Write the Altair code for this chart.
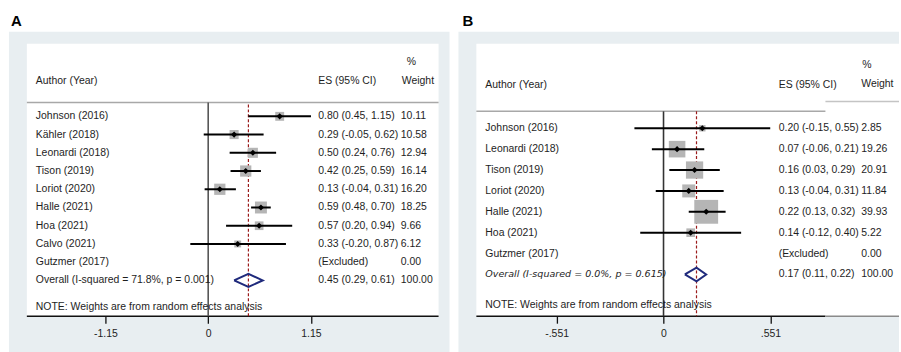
import altair as alt
import pandas as pd

FONT = "Liberation Sans"
TXT = "#1e1e1e"
PANEL_BG = "#e8eef1"
SQUARE_GREY = "#b5b5b5"
DIAMOND_BLUE = "#1f2a7c"
REF_RED = "#9b1b1b"

# ---------------- Panel A ----------------
a_study = ["Johnson (2016)", "Kähler (2018)", "Leonardi (2018)", "Tison (2019)",
           "Loriot (2020)", "Halle (2021)", "Hoa (2021)", "Calvo (2021)", "Gutzmer (2017)"]
a_es = [0.80, 0.29, 0.50, 0.42, 0.13, 0.59, 0.57, 0.33, None]
a_lo = [0.45, -0.05, 0.24, 0.25, -0.04, 0.48, 0.20, -0.20, None]
a_hi = [1.15, 0.62, 0.76, 0.59, 0.31, 0.70, 0.94, 0.87, None]
a_wt = [10.11, 10.58, 12.94, 16.14, 16.20, 18.25, 9.66, 6.12, 0.00]
a_pooled = [0.45, 0.29, 0.61]
a_het = "Overall  (I-squared = 71.8%, p = 0.001)"
a_ticks = [-1.15, 0, 1.15]

# ---------------- Panel B ----------------
b_study = ["Johnson (2016)", "Leonardi (2018)", "Tison (2019)", "Loriot (2020)",
           "Halle (2021)", "Hoa (2021)", "Gutzmer (2017)"]
b_es = [0.20, 0.07, 0.16, 0.13, 0.22, 0.14, None]
b_lo = [-0.15, -0.06, 0.03, -0.04, 0.13, -0.12, None]
b_hi = [0.55, 0.21, 0.29, 0.31, 0.32, 0.40, None]
b_wt = [2.85, 19.26, 20.91, 11.84, 39.93, 5.22, 0.00]
b_pooled = [0.17, 0.11, 0.22]
b_het = "Overall  (I-squared = 0.0%, p = 0.615)"
b_ticks = [-0.551, 0, 0.551]

NOTE = "NOTE: Weights are from random effects analysis"
CANVAS_H = 352


def one():
    return pd.DataFrame({"k": [0]})


def txt(df, x, y, text, **kw):
    style = dict(font=FONT, fontSize=10.5, color=TXT, align="left", baseline="middle")
    style.update(kw)
    return alt.Chart(df).mark_text(**style).encode(x=x, y=y, text=text)


def panel(letter, study, es, lo, hi, wt, pooled, het, ticks, label_expr,
          size_dom, size_rng, g):
    ox = g["origin"]          # left edge of this panel on the page

    def px(v):
        return v - ox

    n = len(study)
    df = pd.DataFrame({"study": study, "row": list(range(n)),
                       "es": es, "lo": lo, "hi": hi, "w": wt})
    df["es_txt"] = [("(Excluded)" if e is None else f"{e:.2f} ({l:.2f}, {h:.2f})")
                    for e, l, h in zip(es, lo, hi)]
    df["w_txt"] = [f"{w:.2f}" for w in wt]
    est = df.dropna(subset=["es"])

    p, plo, phi = pooled
    ov = pd.DataFrame({"row": [n], "es_txt": [f"{p:.2f} ({plo:.2f}, {phi:.2f})"],
                       "w_txt": ["100.00"], "label": [het]})
    half = g["diamond_half"]
    dia = pd.DataFrame({"x": [plo, p, phi, p, plo],
                        "y": [n, n - half, n, n + half, n],
                        "o": [0, 1, 2, 3, 4]})

    XS = alt.Scale(domain=[ticks[0], ticks[-1]],
                   range=[px(g["x_range"][0]), px(g["x_range"][1])], nice=False, zero=False)
    YS = alt.Scale(domain=[0, n], range=g["row_range"], nice=False, zero=False)
    gx0, gx1, gy0 = g["grey"]
    bx0, bx1, by0, by1 = g["box"]
    AX = alt.Axis(values=ticks, title=None, domain=False, grid=False, tickSize=7,
                  tickWidth=1.3, tickColor="#111", labelFont=FONT, labelFontSize=10.5,
                  labelColor=TXT, labelPadding=5, labelFlush=False, zindex=2,
                  offset=by1 - CANVAS_H, labelExpr=label_expr)

    def X(field):
        return alt.X(field, type="quantitative", scale=XS, axis=AX)

    def Y(field):
        return alt.Y(field, type="quantitative", scale=YS, axis=None)

    layers = []
    # grey panel and white plotting box
    layers.append(alt.Chart(one()).mark_rect(fill=PANEL_BG).encode(
        x=alt.value(px(gx0)), x2=alt.value(px(gx1)), y=alt.value(gy0),
        y2=alt.value(CANVAS_H)))
    layers.append(alt.Chart(one()).mark_rect(fill="white").encode(
        x=alt.value(px(bx0)), x2=alt.value(px(bx1)), y=alt.value(by0), y2=alt.value(by1)))
    # header separator
    for x0, x1, yy, col in g["header_lines"]:
        layers.append(alt.Chart(one()).mark_rule(color=col, strokeWidth=1.5).encode(
            x=alt.value(px(x0)), x2=alt.value(px(x1)), y=alt.value(yy)))
    # bottom axis line
    for x0, x1, col in g["axis_lines"]:
        layers.append(alt.Chart(one()).mark_rule(color=col, strokeWidth=1.5).encode(
            x=alt.value(px(x0)), x2=alt.value(px(x1)), y=alt.value(by1)))
    # null line
    layers.append(alt.Chart(pd.DataFrame({"v": [0]})).mark_rule(
        color=g["zero_color"], strokeWidth=1.6).encode(
        x=X("v"), y=alt.value(g["zero_top"]), y2=alt.value(by1)))
    # pooled-estimate reference line
    layers.append(alt.Chart(pd.DataFrame({"v": [p]})).mark_rule(
        color=REF_RED, strokeWidth=1.2, strokeDash=[3, 2]).encode(
        x=X("v"), y=alt.value(g["dash_top"]), y2=alt.value(by1)))
    # weight squares
    layers.append(alt.Chart(est).mark_square(color=SQUARE_GREY, opacity=1).encode(
        x=X("es"), y=Y("row"),
        size=alt.Size("w:Q", scale=alt.Scale(domain=size_dom, range=size_rng), legend=None)))
    # confidence intervals
    layers.append(alt.Chart(est).mark_rule(color="black", strokeWidth=2).encode(
        x=X("lo"), x2="hi", y=Y("row")))
    # point estimates
    layers.append(alt.Chart(est).mark_point(shape="diamond", filled=True, color="black",
                                            size=38, opacity=1).encode(x=X("es"), y=Y("row")))
    # pooled diamond
    layers.append(alt.Chart(dia).mark_line(color=DIAMOND_BLUE, strokeWidth=2,
                                           strokeJoin="miter").encode(
        x=X("x"), y=Y("y"), order="o:Q"))

    # text columns
    layers.append(txt(df, alt.value(px(g["author_x"])), Y("row"), "study:N"))
    layers.append(txt(df, alt.value(px(g["es_x"])), Y("row"), "es_txt:N"))
    layers.append(txt(df, alt.value(px(g["w_x"])), Y("row"), "w_txt:N"))
    layers.append(txt(ov, alt.value(px(g["author_x"])), Y("row"), "label:N", **g["het_style"]))
    layers.append(txt(ov, alt.value(px(g["es_x"])), Y("row"), "es_txt:N"))
    layers.append(txt(ov, alt.value(px(g["w_x"])), Y("row"), "w_txt:N"))

    # headers and footnote
    heads = [("Author (Year)", g["author_x"], g["hdr_y"]),
             ("ES (95% CI)", g["es_x"], g["hdr_y"]),
             ("%", g["pct"][0], g["pct"][1]),
             ("Weight", g["wh"][0], g["wh"][1]),
             (NOTE, g["author_x"], g["note_y"])]
    for t, x, y in heads:
        layers.append(txt(pd.DataFrame({"t": [t]}), alt.value(px(x)), alt.value(y), "t:N"))
    # panel letter
    layers.append(txt(pd.DataFrame({"t": [letter]}), alt.value(px(g["letter_x"])),
                      alt.value(24), "t:N", fontSize=15, fontWeight="bold",
                      baseline="alphabetic", color="black"))

    return alt.layer(*layers).properties(width=g["width"], height=CANVAS_H)


geom_a = dict(origin=0, width=451, grey=(8, 451, 30), box=(26, 440, 42, 316),
              header_lines=[(26, 440, 101, "#a8a8a8")], axis_lines=[(26, 440, "#111")],
              zero_top=101, dash_top=103, zero_color="#555",
              x_range=[105, 311.7], row_range=[115, 280],
              author_x=35, es_x=319, w_x=402, hdr_y=79, pct=(408, 60), wh=(403, 79),
              note_y=307, letter_x=10, diamond_half=0.36, het_style={})
geom_b = dict(origin=451, width=450, grey=(458, 901, 30), box=(476, 901, 42, 316),
              header_lines=[(476, 827, 110, "#a8a8a8"), (827, 901, 100, "#c4c4c4")],
              axis_lines=[(476, 827, "#111"), (827, 901, "#8a8a8a")],
              zero_top=110, dash_top=110, zero_color="#333",
              x_range=[556.7, 771.7], row_range=[127, 274],
              author_x=485, es_x=780, w_x=863, hdr_y=84, pct=(864, 63), wh=(863, 83),
              note_y=305, letter_x=462, diamond_half=0.33,
              het_style=dict(font="DejaVu Sans", fontStyle="italic", fontSize=9.6))

panel_a = panel("A", a_study, a_es, a_lo, a_hi, a_wt, a_pooled, a_het, a_ticks,
                "datum.value == 0 ? '0' : '' + datum.value",
                [0, 20], [0, 158], geom_a)
panel_b = panel("B", b_study, b_es, b_lo, b_hi, b_wt, b_pooled, b_het, b_ticks,
                "datum.value == 0 ? '0' : replace('' + datum.value, '0.', '.')",
                [0, 40], [0, 576], geom_b)

chart = alt.hconcat(panel_a, panel_b, spacing=0).resolve_scale(
    size="independent"
).properties(
    padding=0,
    background="white",
).configure_view(fill="white", stroke="transparent")

chart.save("out.html", embed_options={"renderer": "svg", "actions": False})
